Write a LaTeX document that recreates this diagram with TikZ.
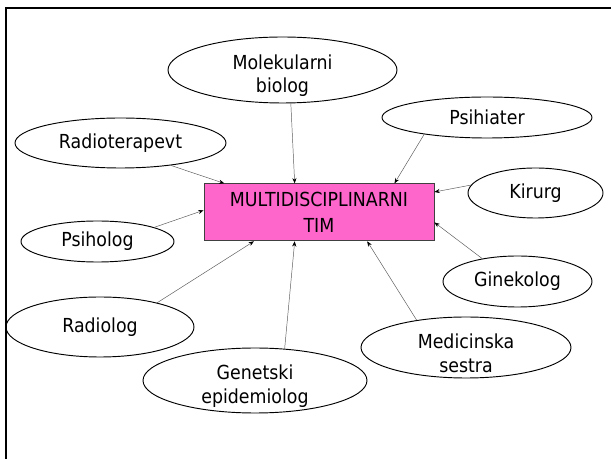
\documentclass[tikz,border=0pt]{standalone}
\usepackage{fontspec}
\setmainfont{DejaVu Sans}[FakeStretch=0.9]
\usetikzlibrary{shapes.geometric,arrows.meta}
\definecolor{timpink}{RGB}{255,102,204}

\begin{document}
\begin{tikzpicture}[
    every node/.style={font=\fontsize{16.5}{20}\selectfont},
    member/.style={ellipse, draw, line width=0.8pt, inner sep=0pt, align=center},
    twoline/.style={label={[align=center, yshift=-0.17cm]center:#1}},
    timbox/.style={rectangle, draw=black!75, line width=0.8pt, fill=timpink,
        inner sep=0pt, minimum width=6.9cm, minimum height=1.71cm, align=center,
        font=\fontsize{16.5}{21.6}\selectfont},
    link/.style={-{Stealth[length=4.5pt, width=3.5pt, color=black]},
        gray!70!black, line width=0.4pt},
    ]

    \useasboundingbox (0,0) rectangle (18.33,13.77);
    \draw[line width=1.7pt] (0.19,0) -- (0.19,13.536) -- (18.33,13.536);

    \node[timbox] (tim) at (9.57,7.40) {MULTIDISCIPLINARNI\\TIM};

    \node[member, minimum width=6.87cm, minimum height=1.98cm,
        twoline={Molekularni\\biolog}] (mol) at (8.475,11.67) {};
    \node[member, minimum width=6.33cm, minimum height=1.5cm]
        (radioter) at (3.615,9.48) {Radioterapevt};
    \node[member, minimum width=6.3cm, minimum height=1.23cm]
        (psihiater) at (14.61,10.245) {Psihiater};
    \node[member, minimum width=4.05cm, minimum height=1.5cm]
        (kirurg) at (16.065,7.98) {Kirurg};
    \node[member, minimum width=4.59cm, minimum height=1.23cm]
        (psiholog) at (2.925,6.525) {Psiholog};
    \node[member, minimum width=5.64cm, minimum height=1.8cm]
        (radiolog) at (3.0,3.96) {Radiolog};
    \node[member, minimum width=6.72cm, minimum height=1.95cm,
        twoline={Genetski\\epidemiolog}] (genetski) at (7.65,2.355) {};
    \node[member, minimum width=6.3cm, minimum height=1.83cm,
        twoline={Medicinska\\sestra}] (medicinska) at (13.98,3.345) {};
    \node[member, minimum width=4.47cm, minimum height=1.53cm]
        (ginekolog) at (15.525,5.325) {Ginekolog};

    \foreach \src/\from/\to in {mol/284/130, radioter/336/163, psiholog/14/179,
                               radiolog/23/204, genetski/47/230, medicinska/151/329,
                               ginekolog/147/355, kirurg/173/10, psihiater/195/21}{
    \draw[link] (\src.\from) -- (tim.\to);
    }

\end{tikzpicture}
\end{document}
